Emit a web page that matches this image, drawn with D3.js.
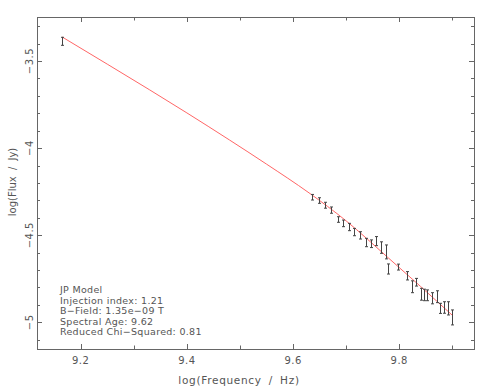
<!DOCTYPE html>
<html>
<head>
<meta charset="utf-8">
<script src="https://cdn.jsdelivr.net/npm/d3@7/dist/d3.min.js"></script>
<style>
	body { margin: 0; background: #fff; }
	svg text { font-family: "DejaVu Sans", sans-serif; fill: #555; }
</style>
</head>
<body>
<svg id="chart" width="481" height="391"></svg>
<script>
/*jshint browser:true, strict:true, undef:true, unused:true */
/* global d3 */

// observed points: log frequency, log flux, half error
var logFreq = [9.1653, 9.6362, 9.6480, 9.6606, 9.6720, 9.6840, 9.6945, 9.7053, 9.7153, 9.7260,
	9.7367, 9.7461, 9.7567, 9.7655, 9.7750, 9.7793, 9.7981, 9.8151, 9.8239, 9.8320,
	9.8409, 9.8460, 9.8527, 9.8622, 9.8704, 9.8772, 9.8842, 9.8912, 9.8987];
var logFlux = [-3.387, -4.282, -4.301, -4.328, -4.356, -4.410, -4.432, -4.453, -4.482, -4.501,
	-4.542, -4.549, -4.534, -4.571, -4.596, -4.694, -4.683, -4.733, -4.796, -4.770,
	-4.839, -4.843, -4.845, -4.862, -4.853, -4.920, -4.915, -4.920, -4.972];
var fluxErr = [0.023, 0.016, 0.016, 0.017, 0.018, 0.016, 0.019, 0.021, 0.021, 0.021,
	0.024, 0.022, 0.026, 0.033, 0.040, 0.029, 0.017, 0.024, 0.034, 0.022,
	0.034, 0.033, 0.031, 0.032, 0.034, 0.029, 0.033, 0.038, 0.043];

// JP model fit
var modelFreq = [9.165, 9.25, 9.33, 9.40, 9.48, 9.55, 9.63, 9.70, 9.78, 9.84, 9.90];
var modelFlux = [-3.362, -3.518, -3.666, -3.798, -3.953, -4.092, -4.257, -4.418, -4.632, -4.794, -4.960];

var xTicks = [9.2, 9.4, 9.6, 9.8];
var yTicks = [-3.5, -4, -4.5, -5];
var fitInfo = [
	"JP Model",
	"Injection index: 1.21",
	"B-Field: 1.35e-09 T",
	"Spectral Age: 9.62",
	"Reduced Chi-Squared: 0.81"
];

(function () {
	"use strict";

	var box = {left: 37, right: 474, top: 17, bottom: 349},
		svg = d3.select("#chart"),
		x = d3.scaleLinear().domain([9.1177, 9.9407]).range([box.left, box.right]),
		y = d3.scaleLinear().domain([-3.2474, -5.1533]).range([box.top, box.bottom]);

	/**
	 * Frame plus ticks on all four sides
	 * @return {Void}
	 */
	var drawFrame = function () {
		var frame = svg.append("g").attr("stroke", "#666").attr("stroke-width", 1);

		frame.append("rect")
			.attr("x", box.left + 0.5)
			.attr("y", box.top + 0.5)
			.attr("width", box.right - box.left)
			.attr("height", box.bottom - box.top)
			.attr("fill", "none");

		var xAll = d3.range(92, 100).map(function (d) { return d / 10; }),
			yAll = d3.range(-51, -32).map(function (d) { return d / 10; });

		xAll.forEach(function (v) {
			var px = Math.round(x(v)) + 0.5,
				len = (Math.round(v * 10) % 2 === 0) ? 5 : 3.5;
			frame.append("line").attr("x1", px).attr("x2", px)
				.attr("y1", box.bottom).attr("y2", box.bottom - len);
			frame.append("line").attr("x1", px).attr("x2", px)
				.attr("y1", box.top).attr("y2", box.top + len);
		});

		yAll.forEach(function (v) {
			var py = Math.round(y(v)) + 0.5,
				len = (Math.round(v * 10) % 5 === 0) ? 5 : 3;
			frame.append("line").attr("y1", py).attr("y2", py)
				.attr("x1", box.left).attr("x2", box.left + len);
			frame.append("line").attr("y1", py).attr("y2", py)
				.attr("x1", box.right).attr("x2", box.right - len);
		});

		svg.selectAll(".xlab").data(xTicks).enter().append("text")
			.attr("class", "xlab")
			.attr("x", function (d) { return x(d); })
			.attr("y", 364)
			.attr("text-anchor", "middle")
			.attr("font-size", 10)
			.attr("letter-spacing", 0.5)
			.text(function (d) { return d.toFixed(1); });

		svg.selectAll(".ylab").data(yTicks).enter().append("text")
			.attr("class", "ylab")
			.attr("transform", function (d) { return "translate(33," + y(d) + ") rotate(-90)"; })
			.attr("text-anchor", "middle")
			.attr("font-size", 10)
			.attr("letter-spacing", 0.5)
			.text(function (d) { return String(d).replace("-", "\u2212"); });

		svg.append("text")
			.attr("x", 239)
			.attr("y", 384)
			.attr("text-anchor", "middle")
			.attr("font-size", 10.5)
			.attr("letter-spacing", 0.7)
			.attr("word-spacing", 3)
			.text("log(Frequency / Hz)");

		svg.append("text")
			.attr("transform", "translate(16,182) rotate(-90)")
			.attr("text-anchor", "middle")
			.attr("font-size", 10)
			.attr("word-spacing", 3)
			.text("log(Flux / Jy)");
	},

	/**
	 * Model curve and the error bars
	 * @return {Void}
	 */
	drawData = function () {
		var line = d3.line()
			.x(function (d) { return x(d[0]); })
			.y(function (d) { return y(d[1]); })
			.curve(d3.curveMonotoneX);

		svg.append("path")
			.datum(d3.zip(modelFreq, modelFlux))
			.attr("d", line)
			.attr("fill", "none")
			.attr("stroke", "#f66")
			.attr("stroke-width", 1);

		var bars = svg.append("g").attr("stroke", "#444").attr("stroke-width", 1),
			cap = 1.5;

		logFreq.forEach(function (f, i) {
			var px = Math.round(x(f)) + 0.5,
				lo = y(logFlux[i] - fluxErr[i]),
				hi = y(logFlux[i] + fluxErr[i]);
			bars.append("line").attr("x1", px).attr("x2", px).attr("y1", lo).attr("y2", hi);
			bars.append("line").attr("x1", px - cap).attr("x2", px + cap).attr("y1", lo).attr("y2", lo);
			bars.append("line").attr("x1", px - cap).attr("x2", px + cap).attr("y1", hi).attr("y2", hi);
		});
	},

	/**
	 * Fit summary text in the lower left
	 * @return {Void}
	 */
	drawInfo = function () {
		svg.selectAll(".info").data(fitInfo).enter().append("text")
			.attr("class", "info")
			.attr("x", 60)
			.attr("y", function (d, i) { return 293 + i * 10.5; })
			.attr("font-size", 9.5)
			.attr("letter-spacing", 0.3)
			.text(function (d) { return d.replace(/-/g, "\u2212"); });
	};

	drawFrame();
	drawData();
	drawInfo();
}());
</script>
</body>
</html>
